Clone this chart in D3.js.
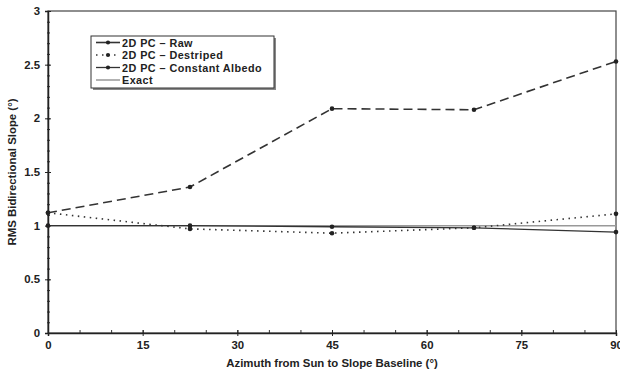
<!DOCTYPE html>
<html><head><meta charset="utf-8">
<script src="https://cdn.jsdelivr.net/npm/d3@7"></script>
<style>body{margin:0;background:#fff}svg{display:block}text{font-family:"Liberation Sans",Arial,sans-serif;font-weight:bold;fill:#222}</style>
</head><body>
<script>
const azimuth = [0, 22.5, 45, 67.5, 90];
const raw = [1.12, 1.36, 2.09, 2.08, 2.53];
const destriped = [1.12, 0.97, 0.93, 0.98, 1.11];
const constAlbedo = [1.0, 1.0, 0.99, 0.98, 0.94];
const exact = [1, 1, 1, 1, 1];
const xTicks = [0, 15, 30, 45, 60, 75, 90];
const yTicks = [0, 0.5, 1, 1.5, 2, 2.5, 3];
const seriesNames = ["2D PC \u2013 Raw", "2D PC \u2013 Destriped", "2D PC \u2013 Constant Albedo", "Exact"];

const W = 620, H = 375, m = {l: 48, r: 4, t: 11, b: 42};
const FS = 11.4;
const svg = d3.select("body").append("svg").attr("width", W).attr("height", H);
const x = d3.scaleLinear().domain([0, 90]).range([m.l, W - m.r]);
const y = d3.scaleLinear().domain([0, 3]).range([H - m.b, m.t]);

// frame
svg.append("rect").attr("x", m.l).attr("y", m.t).attr("width", W - m.r - m.l).attr("height", H - m.b - m.t)
  .attr("fill", "none").attr("stroke", "#444").attr("stroke-width", 1.2);

// minor ticks
const gx = svg.append("g").attr("transform", `translate(0,${H - m.b})`);
gx.call(d3.axisBottom(x).tickValues(d3.range(0, 91, 5)).tickSize(3).tickFormat(""))
  .call(g => g.select(".domain").remove());
gx.selectAll(".tick line").attr("y1", -3).attr("y2", 0).attr("stroke", "#333");
const gx2 = svg.append("g").attr("transform", `translate(0,${H - m.b})`);
gx2.call(d3.axisBottom(x).tickValues(xTicks).tickSize(3).tickPadding(5).tickFormat(d3.format("d")))
  .call(g => g.select(".domain").attr("stroke", "#222").attr("stroke-width", 1.5));
gx2.selectAll(".tick line").attr("y1", -3).attr("y2", 3).attr("stroke", "#222");
gx2.selectAll("text").attr("font-size", FS).attr("font-family", "Liberation Sans, Arial").attr("font-weight", "bold").attr("fill", "#222");

const gy = svg.append("g").attr("transform", `translate(${m.l},0)`);
gy.call(d3.axisLeft(y).tickValues(d3.range(0, 31).map(d => d / 10)).tickSize(2).tickFormat(""))
  .call(g => g.select(".domain").remove());
gy.selectAll(".tick line").attr("x1", -1).attr("x2", 2).attr("stroke", "#333");
const gy2 = svg.append("g").attr("transform", `translate(${m.l},0)`);
gy2.call(d3.axisLeft(y).tickValues(yTicks).tickSize(3).tickPadding(5).tickFormat(d => d))
  .call(g => g.select(".domain").attr("stroke", "#222").attr("stroke-width", 1.5));
gy2.selectAll(".tick line").attr("x1", -3).attr("x2", 3).attr("stroke", "#222");
gy2.selectAll("text").attr("font-size", FS).attr("font-family", "Liberation Sans, Arial").attr("font-weight", "bold").attr("fill", "#222");

// axis labels
svg.append("text").attr("x", 332).attr("y", 367).attr("text-anchor", "middle")
  .attr("font-size", FS).text("Azimuth from Sun to Slope Baseline (\u00b0)");
svg.append("text").attr("transform", `translate(16,${(m.t + H - m.b) / 2}) rotate(-90)`).attr("text-anchor", "middle")
  .attr("font-size", FS).text("RMS Bidirectional Slope (\u00b0)");

const line = d3.line().x((d, i) => x(azimuth[i])).y(d => y(d));
const styles = [
  {data: raw, stroke: "#333", w: 1.6, dash: "9,5", marker: true},
  {data: destriped, stroke: "#333", w: 1.6, dash: "1.5,4.5", marker: true},
  {data: constAlbedo, stroke: "#333", w: 1.3, dash: null, marker: true},
  {data: exact, stroke: "#999", w: 1.5, dash: null, marker: false}
];
[3, 2, 1, 0].forEach(k => {
  const s = styles[k];
  svg.append("path").datum(s.data).attr("d", line).attr("fill", "none")
    .attr("stroke", s.stroke).attr("stroke-width", s.w).attr("stroke-dasharray", s.dash);
  if (s.marker) svg.append("g").selectAll("circle").data(s.data).join("circle")
    .attr("cx", (d, i) => x(azimuth[i])).attr("cy", d => y(d)).attr("r", 2.3).attr("fill", "#222");
});

// legend
const lg = svg.append("g");
lg.append("rect").attr("x", 93).attr("y", 38).attr("width", 183).attr("height", 52).attr("fill", "#888");
lg.append("rect").attr("x", 91).attr("y", 36).attr("width", 183).attr("height", 52).attr("fill", "#fff").attr("stroke", "#333").attr("stroke-width", 1);
seriesNames.forEach((n, k) => {
  const s = styles[k], yy = 42.5 + k * 12.5;
  lg.append("line").attr("x1", 96).attr("x2", 120).attr("y1", yy).attr("y2", yy)
    .attr("stroke", s.stroke).attr("stroke-width", s.w).attr("stroke-dasharray", k === 1 ? "1.5,4.5" : null);
  if (s.marker) lg.append("circle").attr("cx", 108).attr("cy", yy).attr("r", 2.1).attr("fill", "#222");
  lg.append("text").attr("x", 122).attr("y", yy + 4).attr("font-size", 10.8).attr("letter-spacing", 0.45).text(n);
});
</script>
</body></html>
